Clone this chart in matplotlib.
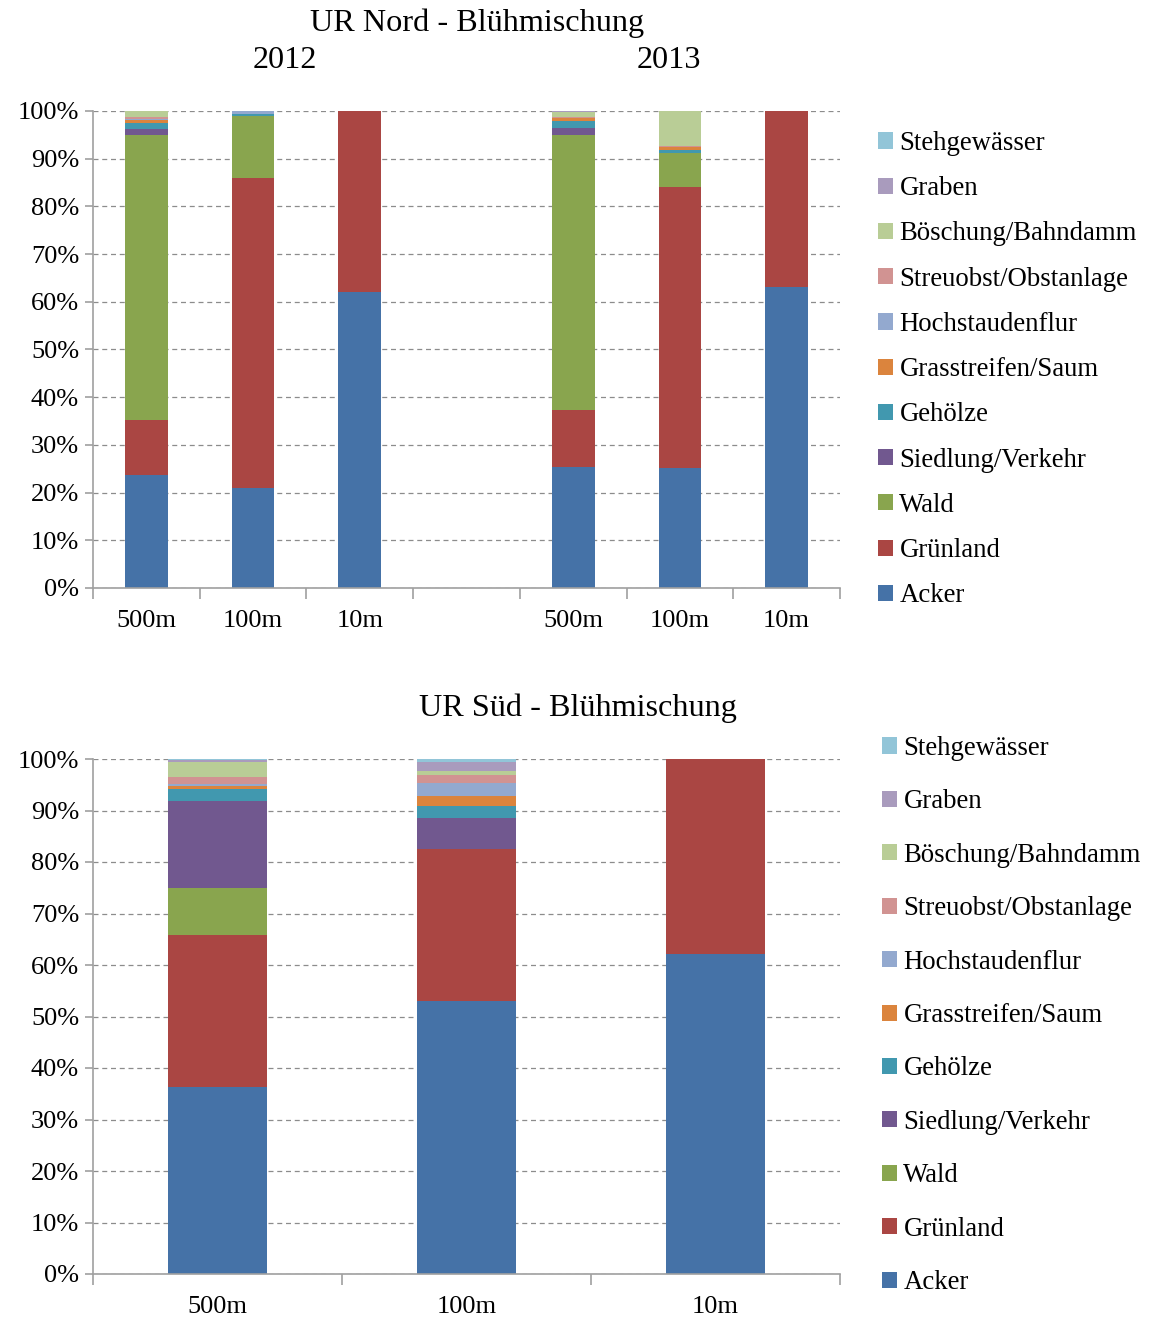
import matplotlib
matplotlib.use("Agg")
import matplotlib.pyplot as plt
from matplotlib.patches import Patch
from matplotlib.ticker import FuncFormatter

plt.rcParams['font.family'] = ['Liberation Serif', 'DejaVu Serif']

# land-use classes, bottom to top of each stack
classes = ['Acker', 'Grünland', 'Wald', 'Siedlung/Verkehr', 'Gehölze',
           'Grasstreifen/Saum', 'Hochstaudenflur', 'Streuobst/Obstanlage',
           'Böschung/Bahndamm', 'Graben', 'Stehgewässer']
colors = ['#4572A7', '#AA4643', '#89A54E', '#71588F', '#4198AF',
          '#DB843D', '#93A9CF', '#D19392', '#B9CD96', '#A99BBD', '#92C5D8']

radius = ['500m', '100m', '10m']

# UR Nord, shares in % per radius (2012 then 2013)
nord_2012 = {
    '500m': [23.7, 11.5, 59.8, 1.2, 1.3, 0.7, 0.2, 0.3, 1.3, 0.0, 0.0],
    '100m': [21.0, 65.0, 13.0, 0.0, 0.4, 0.0, 0.6, 0.0, 0.0, 0.0, 0.0],
    '10m':  [62.0, 38.0, 0, 0, 0, 0, 0, 0, 0, 0, 0],
}
nord_2013 = {
    '500m': [25.4, 11.9, 57.7, 1.4, 1.5, 0.6, 0.0, 0.2, 1.1, 0.2, 0.0],
    '100m': [25.2, 58.9, 7.0, 0.0, 0.8, 0.5, 0.0, 0.2, 7.4, 0.0, 0.0],
    '10m':  [63.0, 37.0, 0, 0, 0, 0, 0, 0, 0, 0, 0],
}
# UR Süd, shares in % per radius
sued = {
    '500m': [36.3, 29.5, 9.2, 16.8, 2.3, 0.7, 0.3, 1.5, 2.9, 0.4, 0.1],
    '100m': [53.0, 29.5, 0.0, 6.1, 2.3, 1.9, 2.5, 1.5, 0.8, 1.8, 0.6],
    '10m':  [62.1, 37.9, 0, 0, 0, 0, 0, 0, 0, 0, 0],
}

W, H = 1150, 1320
fig = plt.figure(figsize=(W / 100, H / 100), dpi=100)

def box(x0, y0, x1, y1):
    return [x0 / W, 1 - y1 / H, (x1 - x0) / W, (y1 - y0) / H]

grey = '#A0A0A0'

def style(ax, nslots, labels, centers):
    ax.set_ylim(0, 100)
    ax.set_xlim(-0.5, nslots - 0.5)
    ax.set_yticks(range(0, 101, 10))
    ax.yaxis.set_major_formatter(FuncFormatter(lambda v, p: '%d%%' % v))
    ax.yaxis.grid(True, linestyle=(0, (4, 3)), color='#8C8C8C', linewidth=0.9)
    ax.set_axisbelow(True)
    for s in ['top', 'right']:
        ax.spines[s].set_visible(False)
    for s in ['left', 'bottom']:
        ax.spines[s].set_color(grey)
        ax.spines[s].set_linewidth(1.2)
    ax.set_xticks([i - 0.5 for i in range(nslots + 1)])
    ax.set_xticklabels([])
    ax.set_xticks(centers, minor=True)
    ax.set_xticklabels(labels, minor=True)
    ax.tick_params(axis='x', which='major', length=8, color=grey, width=1.2)
    ax.tick_params(axis='x', which='minor', length=0, pad=16, labelsize=19)
    ax.tick_params(axis='y', length=6, color=grey, width=1.2, labelsize=19, pad=4)

def stack(ax, xs, groups, width):
    for x, vals in zip(xs, groups):
        bottom = 0
        for v, c in zip(vals, colors):
            if v > 0:
                ax.bar(x, v, width, bottom=bottom, color=c, linewidth=0)
            bottom += v

def legend(ax, anchor, spacing):
    handles = [Patch(facecolor=c, edgecolor='none') for c in colors[::-1]]
    ax.legend(handles, classes[::-1], loc='upper left', bbox_to_anchor=anchor,
              bbox_transform=fig.transFigure, frameon=False, fontsize=19.3,
              handlelength=0.55, handleheight=0.55, handletextpad=0.25,
              labelspacing=spacing, borderaxespad=0, borderpad=0)

# UR Nord
ax1 = fig.add_axes(box(93, 111, 840, 588))
xs1 = [0, 1, 2, 4, 5, 6]
groups1 = [nord_2012[r] for r in radius] + [nord_2013[r] for r in radius]
stack(ax1, xs1, groups1, 0.4)
style(ax1, 7, radius + radius, xs1)
legend(ax1, (878 / W, 1 - 131 / H), 0.755)
fig.text(477 / W, 1 - 23 / H, 'UR Nord - Blühmischung', ha='center', va='center', fontsize=23.2)
fig.text(285 / W, 1 - 60 / H, '2012', ha='center', va='center', fontsize=23.2)
fig.text(669 / W, 1 - 60 / H, '2013', ha='center', va='center', fontsize=23.2)

# UR Süd
ax2 = fig.add_axes(box(93, 759, 840, 1274))
xs2 = [0, 1, 2]
stack(ax2, xs2, [sued[r] for r in radius], 0.4)
style(ax2, 3, radius, xs2)
legend(ax2, (882 / W, 1 - 736 / H), 1.06)
fig.text(578 / W, 1 - 708 / H, 'UR Süd - Blühmischung', ha='center', va='center', fontsize=23.2)

fig.savefig('out.png', dpi=100)
